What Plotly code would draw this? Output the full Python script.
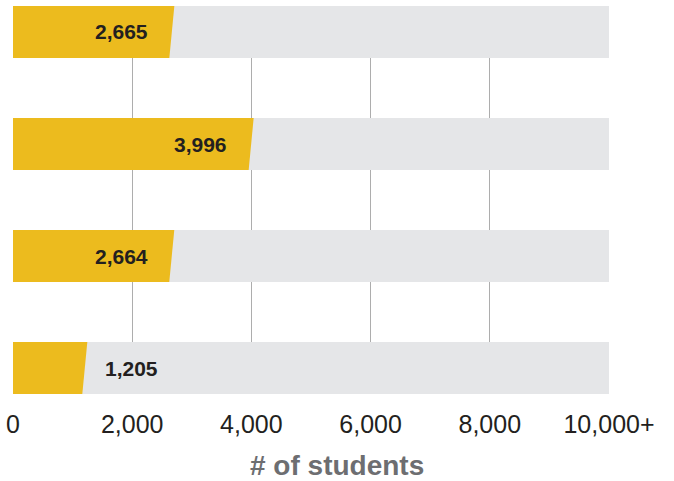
import plotly.graph_objects as go

# Data
categories = ["Group 1", "Group 2", "Group 3", "Group 4"]
students = [2665, 3996, 2664, 1205]
axis_max = 10000
tick_values = [0, 2000, 4000, 6000, 8000, 10000]
tick_labels = ["0", "2,000", "4,000", "6,000", "8,000", "10,000+"]
axis_title = "# of students"

YELLOW = "#ECBB1E"
GRAY_BAR = "#E5E6E8"
GRID = "#ADADAD"
TEXT = "#231F20"

half = 0.232   # half bar thickness in category units
slant = 42     # slant of the bar end in data units

fig = go.Figure()

# background bars (full scale)
fig.add_trace(go.Bar(
    y=list(range(len(categories))), x=[axis_max] * len(categories),
    orientation="h", width=2 * half, marker=dict(color=GRAY_BAR, line=dict(width=0)),
    hoverinfo="skip", showlegend=False,
))

# value bars with slanted ends
for i, (cat, v) in enumerate(zip(categories, students)):
    fig.add_trace(go.Scatter(
        x=[0, v + slant, v - slant, 0, 0],
        y=[i - half, i - half, i + half, i + half, i - half],
        mode="lines", fill="toself", fillcolor=YELLOW,
        line=dict(width=0, color=YELLOW), name=cat,
        hoverinfo="skip", showlegend=False,
    ))
    inside = v >= 2000
    fig.add_annotation(
        x=v, y=i, text=f"<b>{v:,}</b>", showarrow=False,
        xanchor="right" if inside else "left",
        xshift=-22 if inside else 18,
        font=dict(family="Liberation Sans, Arial, sans-serif", size=21, color=TEXT),
    )

# axis title, centred on the page as in the reference
fig.add_annotation(
    x=0.5436, y=-0.183, xref="paper", yref="paper",
    text=f"<b>{axis_title}</b>", showarrow=False,
    xanchor="center", yanchor="middle",
    font=dict(family="Liberation Sans, Arial, sans-serif", size=28, color="#6D6E71"),
)

fig.update_layout(
    width=674, height=481,
    margin=dict(l=13, r=65, t=6, b=87, autoexpand=False),
    paper_bgcolor="white", plot_bgcolor="white",
    barmode="overlay",
    font=dict(family="Liberation Sans, Arial, sans-serif", color=TEXT),
    xaxis=dict(
        range=[0, axis_max], tickvals=tick_values, ticktext=tick_labels,
        showgrid=True, gridcolor=GRID, gridwidth=1, zeroline=False,
        showline=False, ticks="", ticklabelstandoff=13, automargin=False,
        tickfont=dict(size=25, color=TEXT),
        fixedrange=True,
    ),
    yaxis=dict(
        range=[len(categories) - 1 + half, -half],
        showticklabels=False, showgrid=False, zeroline=False, showline=False,
        ticks="", fixedrange=True, automargin=False,
    ),
)

fig.write_html(
    "out.html",
    config={"displayModeBar": False, "staticPlot": True},
    post_script="document.body.style.margin='0';document.body.style.overflow='hidden';",
)
